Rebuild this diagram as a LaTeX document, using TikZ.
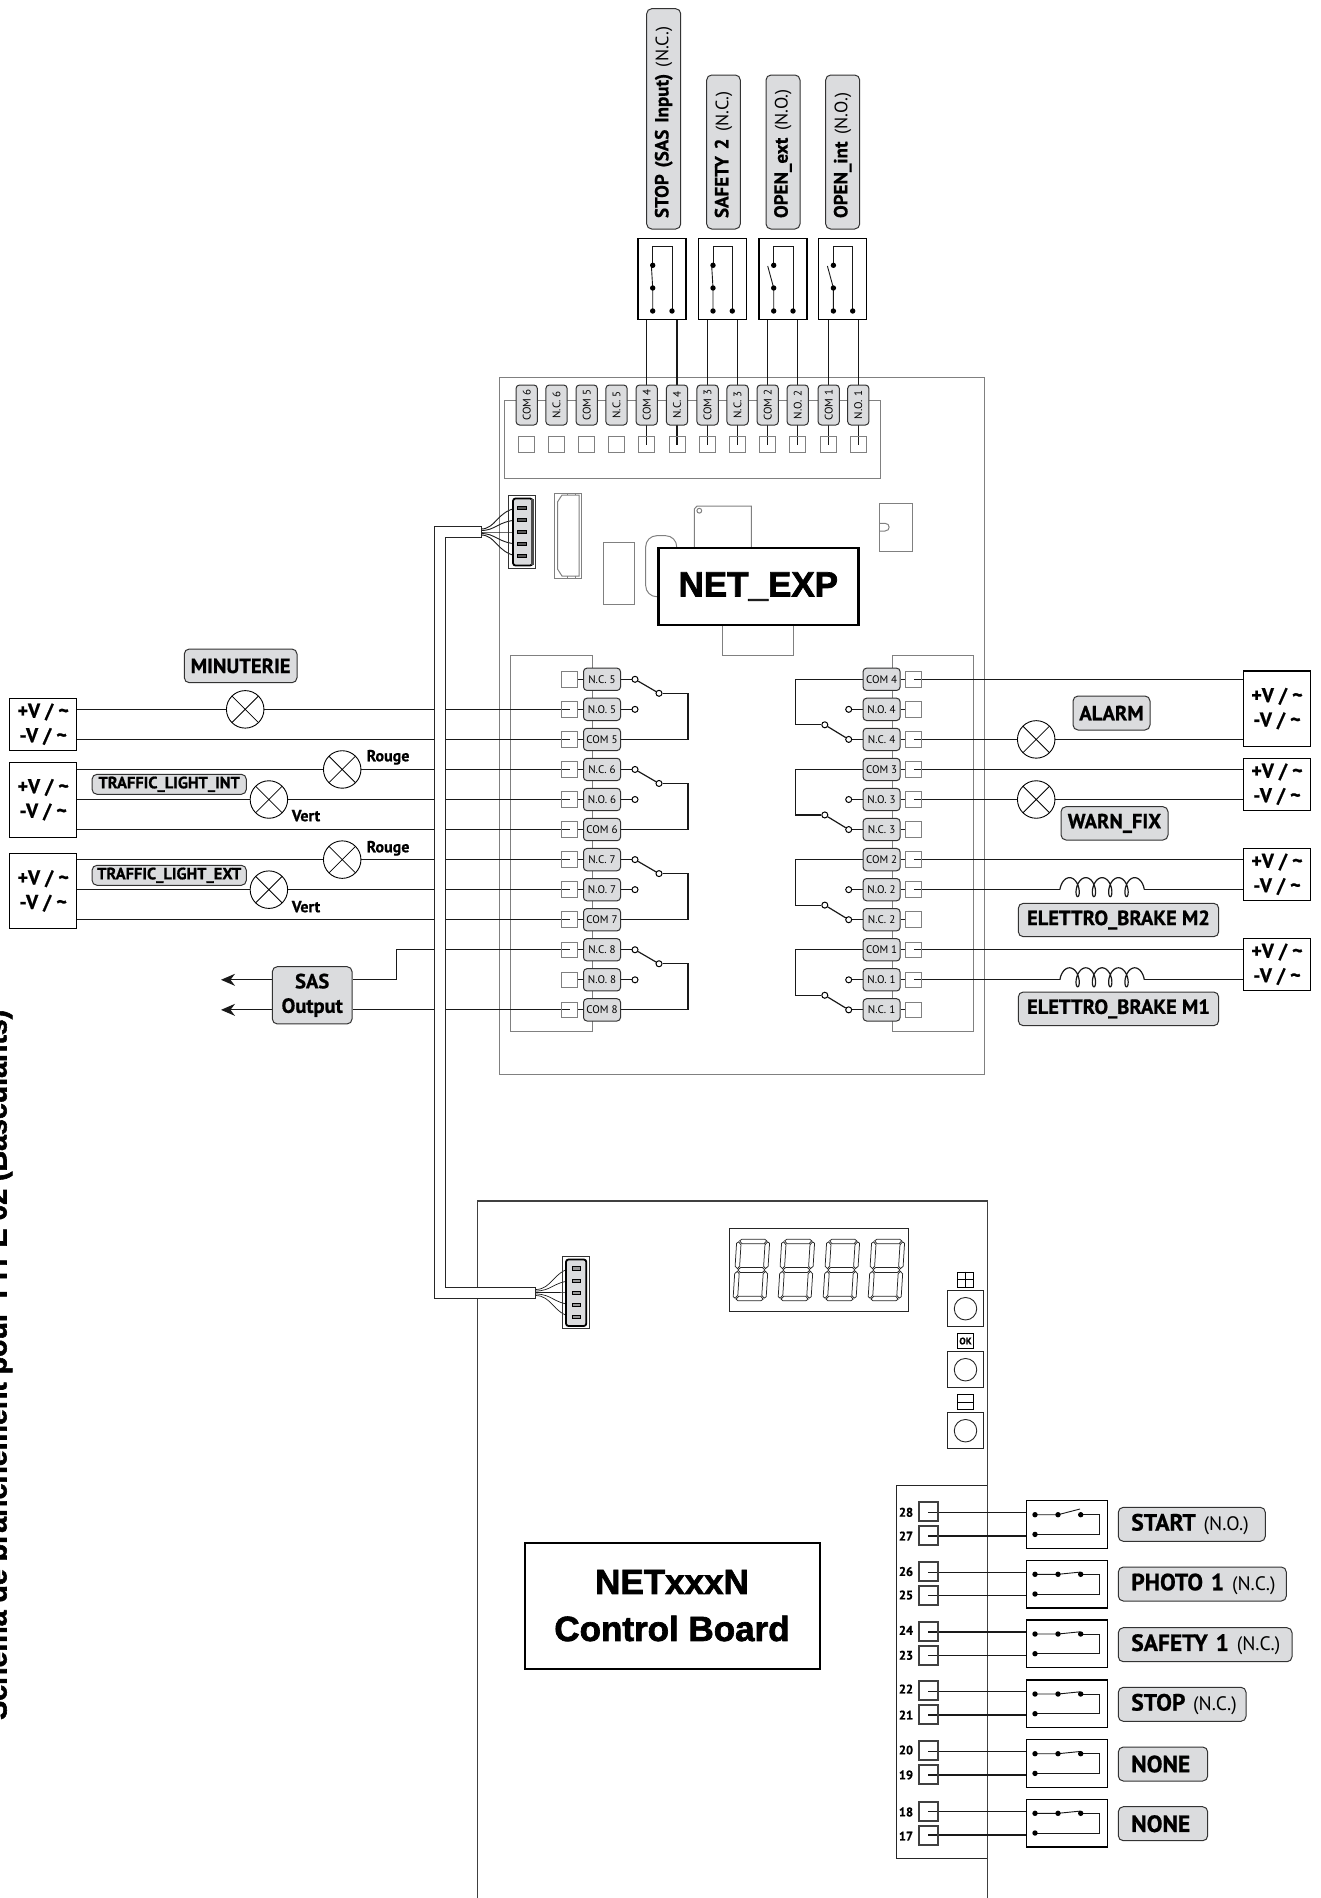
\documentclass[tikz,border=0pt]{standalone}
\usepackage{fontspec}
\usepackage{graphicx}
\setmainfont[BoldFeatures={FakeBold=0.8}]{PT Sans}
\newfontfamily\heavy[BoldFeatures={FakeBold=2}]{Liberation Sans}
\usetikzlibrary{arrows.meta,calc}
\pgfdeclarelayer{board}\pgfdeclarelayer{wires}\pgfdeclarelayer{cable}
\pgfsetlayers{board,wires,cable,main}
\definecolor{tagfill}{HTML}{DBDCDE}
\definecolor{tagline}{HTML}{333333}
\definecolor{pcb}{HTML}{808080}
\newcommand{\fs}[1]{\fontsize{#1}{#1}\selectfont}
\newcommand{\pill}[6]{\node[tagbox,minimum width={(#4-#2)*1pt},minimum height={(#5-#3)*1pt}] (#1) at ({(#2+#4)/2},{(#3+#5)/2}) {#6};}
\newcommand{\vpill}[6]{\node[tagbox,rotate=90,inner xsep=11pt,text width={(#5-#3-22)*1pt},align=left,minimum height={(#4-#2)*1pt}] (#1) at ({(#2+#4)/2},{(#3+#5)/2}) {\mbox{#6}};}
\newcommand{\lpill}[6]{\node[tagbox,inner xsep=13pt,text width={(#4-#2-26)*1pt},align=left,minimum height={(#5-#3)*1pt},font=\bfseries\fs{23.5}] (#1) at ({(#2+#4)/2},{(#3+#5)/2}) {\mbox{#6}};}
\newcommand{\ltx}[1]{{\fontseries{m}\selectfont\fs{18}#1}}
\newcommand{\ltb}[1]{{\fontseries{m}\selectfont\fs{19.5}#1}}
% vertical contact: name, left x, blade tip dx
\newcommand{\swv}[3]{%
  \node[swbox,minimum width=48pt,minimum height=80.6pt] (#1) at ({#2+24},279) {};
  \draw[inner] ({#2+14.7},265.3) -- ({#2+14.7},246.7) -- ({#2+34},246.7) -- ({#2+34},311);
  \draw[inner] ({#2+14.7},311) -- ({#2+14.7},288) -- ({#2+14.7+#3},266);
  \foreach \px/\py in {14.7/265.3,14.7/288,14.7/311,34/311}{\fill ({#2+\px},\py) circle (2.7);}
}
% horizontal contact: name, top y, blade tip rise
\newcommand{\swh}[3]{%
  \node[swbox,minimum width=81pt,minimum height=47.6pt] (#1) at (1067.2,{#2+23.8}) {};
  \draw[inner] (1080.7,{#2+14}) -- (1099.3,{#2+14}) -- (1099.3,{#2+33.7}) -- (1035,{#2+33.7});
  \draw[inner] (1035,{#2+14}) -- (1058,{#2+14}) -- (1080,{#2+14-#3});
  \foreach \px/\py in {1035/14,1058/14,1080.7/14,1035/33.7}{\fill (\px,{#2+\py}) circle (2.7);}
}
% coil: name, row number
\newcommand{\coil}[2]{%
  \pgfmathsetmacro\cy{679.3+30.05*#2}
  \coordinate (#1w) at (1059.9,\cy);
  \coordinate (#1e) at (1144.3,\cy);
  \draw[wire] plot[smooth,samples=200,domain=-105:1545,variable=\a] ({1069.5+0.04528*\a+5*sin(\a)},{\cy-2.5-9.5*cos(\a)});
}
\tikzset{
  tagbox/.style={draw=tagline,fill=tagfill,rounded corners=5pt,line width=1pt,inner sep=0pt,font=\bfseries\fs{20.5}},
  termtag/.style={draw=tagline,fill=tagfill,rounded corners=3.5pt,line width=1pt,inner sep=0pt,minimum width=37pt,minimum height=22.3pt,font=\fs{11}},
  toptag/.style={termtag,rotate=90,minimum width=40pt,minimum height=21.3pt},
  termsq/.style={draw=pcb,line width=1pt,inner sep=0pt,minimum width=16pt,minimum height=15.5pt},
  botsq/.style={draw=black!75,line width=2pt,inner sep=0pt,minimum width=19.5pt,minimum height=19pt},
  powbox/.style={draw=black,fill=white,line width=1.1pt,inner sep=0pt,align=center,font=\bfseries\fs{20}},
  swbox/.style={draw=black,fill=white,line width=1.5pt,inner sep=0pt},
  wire/.style={draw=black!90,line width=1.2pt},
  inner/.style={draw=black!90,line width=.9pt},
  cont/.style={circle,draw=black,fill=white,line width=1pt,inner sep=0pt,minimum size=6pt},
  lamp/.style={circle,draw=black,fill=white,line width=.9pt,inner sep=0pt,minimum size=37.5pt,
    path picture={\draw[line width=.8pt] (path picture bounding box.north west) -- (path picture bounding box.south east)
      (path picture bounding box.north east) -- (path picture bounding box.south west);}},
  pcbline/.style={draw=pcb,line width=1pt},
  seg/.style={draw=black!85,line width=.75pt,fill=white},
  pin/.style={draw=black,fill=black!65,line width=.8pt,inner sep=0pt,minimum width=8.7pt,minimum height=3.6pt},
  fan/.style={draw=black!90,line width=.9pt},
  lbl/.style={inner sep=0pt,font=\bfseries\fs{16}},
  num/.style={inner sep=0pt,font=\bfseries\fs{12.5}},
  icon/.style={draw=black,line width=1.1pt,inner sep=0pt,minimum width=15.7pt,minimum height=15.2pt},
  btn/.style={draw=black!85,line width=.9pt,inner sep=0pt,minimum width=36.3pt,minimum height=36pt},
  btncap/.style={circle,draw=black!85,line width=.9pt,inner sep=0pt,minimum size=22.5pt},
}
\begin{document}
\begin{tikzpicture}[x=1pt,y=-1pt]
\useasboundingbox (0,0) rectangle (1321,1898);

% ---- side title, cut by the page edge
\begin{scope}
\clip (0,0) rectangle (1321,1898);
\node[rotate=90,anchor=base west,inner sep=0pt] (title) at (6.5,1720)
  {\resizebox{710pt}{!}{\heavy\bfseries Schéma de branchement pour TYPE 02 (Basculants)}};
\end{scope}

% ---- boards
\begin{pgfonlayer}{board}
  \draw[pcbline] (499.5,377.5) rectangle (984.3,1074);
  \draw[pcbline] (504,400) rectangle (880,478.7);
  \draw[pcbline] (510.4,655) rectangle (592,1031);
  \draw[pcbline] (892,655) rectangle (973.6,1031);
  % parts on NET_EXP
  \draw[pcbline] (554.7,493) rectangle (581.3,578.3);
  \draw[pcbline] (562,495) -- (557.5,502) -- (557.5,569) -- (562,576) -- (579,576) -- (579,495) -- cycle;
  \draw[pcbline] (567,493) -- (567,495) (575,493) -- (575,495) (567,576) -- (567,578.3) (575,576) -- (575,578.3);
  \draw[pcbline] (603.3,542.7) rectangle (634.3,604.3);
  \draw[pcbline,rounded corners=11pt] (645.7,535.7) rectangle (676.7,596.7);
  \draw[pcbline] (697,506) -- (751.3,506) -- (751.3,560) -- (694.3,560) -- (694.3,509) -- cycle;
  \draw[pcbline] (699.3,510.7) circle (2.4);
  \draw[pcbline] (722,620) rectangle (793,655.7);
  \draw[pcbline] (879.7,503.7) rectangle (912.3,551.3);
  \draw[pcbline] (879.7,523.3) -- (885,523.3) .. controls (890.5,523.3) and (890.5,531) .. (885,531) -- (879.7,531);
  % lower board
  \draw[draw=black!75,line width=1.1pt] (477.8,1898) -- (477.8,1201) -- (987.6,1201) -- (987.6,1898);
\end{pgfonlayer}

% ---- left terminals
\foreach \i/\lab in {0/N.C. 5,1/N.O. 5,2/COM 5,3/N.C. 6,4/N.O. 6,5/COM 6,6/N.C. 7,7/N.O. 7,8/COM 7,9/N.C. 8,10/N.O. 8,11/COM 8}{
  \node[termsq] (LS\i) at (569.6,{679.3+30.05*\i}) {};
  \node[termtag] (LT\i) at (602,{679.3+30.05*\i}) {\lab};
  \begin{pgfonlayer}{wires}\draw[wire] (LS\i.east) -- (LT\i.west);\end{pgfonlayer}
}
% ---- right terminals
\foreach \i/\lab in {0/COM 4,1/N.O. 4,2/N.C. 4,3/COM 3,4/N.O. 3,5/N.C. 3,6/COM 2,7/N.O. 2,8/N.C. 2,9/COM 1,10/N.O. 1,11/N.C. 1}{
  \node[termsq] (RS\i) at (913.9,{679.3+30.05*\i}) {};
  \node[termtag] (RT\i) at (881.6,{679.3+30.05*\i}) {\lab};
  \begin{pgfonlayer}{wires}\draw[wire] (RT\i.east) -- (RS\i.west);\end{pgfonlayer}
}
% ---- change-over contacts, left
\foreach \b/\no/\com in {0/1/2,3/4/5,6/7/8,9/10/11}{
  \node[cont] (LNC\b) at (635,{679.3+30.05*\b}) {};
  \node[cont] (LNO\b) at (635,{679.3+30.05*\no}) {};
  \node[cont] (LAC\b) at (659,{679.3+30.05*\b+14}) {};
  \coordinate (LK\b) at (688,{679.3+30.05*\b+14});
  \begin{pgfonlayer}{wires}
    \draw[wire] (LT\b.east) -- (LNC\b);
    \draw[wire] (LT\no.east) -- (LNO\b);
    \draw[wire] (LNC\b) -- (LAC\b);
    \draw[wire] (LAC\b) -- (LK\b) -- (LK\b |- LT\com.east) -- (LT\com.east);
  \end{pgfonlayer}
}
% ---- change-over contacts, right
\foreach \b/\no/\nc in {0/1/2,3/4/5,6/7/8,9/10/11}{
  \node[cont] (RNO\b) at (848.7,{679.3+30.05*\no}) {};
  \node[cont] (RNC\b) at (848.7,{679.3+30.05*\nc}) {};
  \node[cont] (RAC\b) at (824.8,{679.3+30.05*\nc-14.6}) {};
  \coordinate (RK\b) at (795.8,{679.3+30.05*\nc-14.6});
  \begin{pgfonlayer}{wires}
    \draw[wire] (RT\no.west) -- (RNO\b);
    \draw[wire] (RT\nc.west) -- (RNC\b);
    \draw[wire] (RNC\b) -- (RAC\b);
    \draw[wire] (RAC\b) -- (RK\b) -- (RK\b |- RT\b.west) -- (RT\b.west);
  \end{pgfonlayer}
}
% ---- top terminals
\foreach \i/\px/\lab in {1/526.7/COM 6,2/556.5/N.C. 6,3/586.7/COM 5,4/616.5/N.C. 5,5/646.7/COM 4,6/677/N.C. 4,7/707.6/COM 3,8/737.6/N.C. 3,9/767.7/COM 2,10/797.7/N.O. 2,11/828.7/COM 1,12/858.3/N.O. 1}{
  \node[termsq,minimum width=16pt,minimum height=16pt] (TS\i) at (\px,444.7) {};
  \node[toptag] (TT\i) at (\px,405) {\lab};
}

% ---- parts on the board drawn above the wires
\node[draw=black,fill=white,line width=2.4pt,inner sep=0pt,minimum width=200pt,minimum height=77pt,font=\heavy\bfseries\fs{35}] (netexp) at (758.3,586.5) {NET\_EXP};

% ---- top contacts and labels
\swv{SWa}{638}{-1.3}
\swv{SWb}{698.3}{-1.3}
\swv{SWc}{759}{-6}
\swv{SWd}{818.7}{-6}
\vpill{LA}{646.7}{8.7}{680.7}{229}{\fs{19}STOP (SAS Input) \ltx{(N.C.)}}
\vpill{LB}{706.7}{75}{740.3}{229}{\fs{19}SAFETY 2 \ltx{(N.C.)}}
\vpill{LC}{766}{75}{800}{229}{\fs{19}OPEN\_ext \ltx{(N.O.)}}
\vpill{LD}{825.7}{75}{859.7}{229}{\fs{19}OPEN\_int \ltx{(N.O.)}}

% ---- left power boxes
\node[powbox,minimum width=67.3pt,minimum height=52.3pt] (PA) at (43.2,724.2) {+V / \textasciitilde\\[4.5pt] -V / \textasciitilde};
\node[powbox,minimum width=67.3pt,minimum height=75.3pt] (PB) at (43.2,799.7) {+V / \textasciitilde\\[4.5pt] -V / \textasciitilde};
\node[powbox,minimum width=67.3pt,minimum height=75.3pt] (PC) at (43.2,891) {+V / \textasciitilde\\[4.5pt] -V / \textasciitilde};
% ---- right power boxes
\node[powbox,minimum width=67.2pt,minimum height=75.3pt] (QA) at (1277,708.6) {+V / \textasciitilde\\[4.5pt] -V / \textasciitilde};
\node[powbox,minimum width=67.2pt,minimum height=52.3pt] (QB) at (1277,784.2) {+V / \textasciitilde\\[4.5pt] -V / \textasciitilde};
\node[powbox,minimum width=67.2pt,minimum height=52pt] (QC) at (1277,874.3) {+V / \textasciitilde\\[4.5pt] -V / \textasciitilde};
\node[powbox,minimum width=67.2pt,minimum height=52pt] (QD) at (1277,964.3) {+V / \textasciitilde\\[4.5pt] -V / \textasciitilde};

% ---- lamps
\node[lamp] (lpM) at (245.2,709.35) {};
\node[lamp] (lpR1) at (342.2,769.45) {};
\node[lamp] (lpV1) at (268.9,799.5) {};
\node[lamp] (lpR2) at (342.2,859.6) {};
\node[lamp] (lpV2) at (268.9,889.65) {};
\node[lamp] (lpA) at (1036.2,739.4) {};
\node[lamp] (lpW) at (1036.2,799.5) {};

% ---- labels
\pill{tMin}{184.3}{649}{297}{682.7}{MINUTERIE}
\node[tagbox,minimum width=154.3pt,minimum height=20pt,font=\bfseries\fs{16.4}] (tInt) at (169.2,784.3) {TRAFFIC\_LIGHT\_INT};
\node[tagbox,minimum width=154.3pt,minimum height=20pt,font=\bfseries\fs{16.4}] (tExt) at (169.2,875.3) {TRAFFIC\_LIGHT\_EXT};
\node[lbl] (rg1) at (388,757.3) {Rouge};
\node[lbl] (rg2) at (388,848.3) {Rouge};
\node[lbl] (vt1) at (306,815.7) {Vert};
\node[lbl] (vt2) at (306,906.7) {Vert};
\node[tagbox,align=center,minimum width=79.7pt,minimum height=57.3pt,font=\bfseries\fs{20.5}] (sas) at (312.2,995.3) {SAS\\[4pt]Output};
\pill{tAl}{1073}{696}{1150}{730}{ALARM}
\pill{tWa}{1061}{806.7}{1168}{840}{WARN\_FIX}
\pill{tBr2}{1018.3}{903.3}{1218.7}{936.7}{ELETTRO\_BRAKE M2}
\pill{tBr1}{1018.3}{992}{1218.7}{1025.7}{ELETTRO\_BRAKE M1}

% ---- coils
\coil{cA}{7}
\coil{cB}{10}

% ---- arrow ends of SAS
\coordinate (arA) at (221,979.8);
\coordinate (arB) at (221,1009.85);
\coordinate (sasK) at (396.8,979.8);

% ---- all long wires
\begin{pgfonlayer}{wires}
  \foreach \i/\b in {1/PA,2/PA}{\draw[wire] (\b.east |- LS\i.center) -- (LS\i.center);}
  \foreach \i/\b in {3/PB,4/PB,5/PB}{\draw[wire] (\b.east |- LS\i.center) -- (LS\i.center);}
  \foreach \i/\b in {6/PC,7/PC,8/PC}{\draw[wire] (\b.east |- LS\i.center) -- (LS\i.center);}
  \draw[wire] (LS9.center) -- (LS9.center -| sasK) -- (sasK) -- (sasK -| sas.east);
  \draw[wire] (LS11.center) -- (LS11.center -| sas.east);
  \draw[wire,-{Stealth[length=14pt,width=12pt]}] (arA -| sas.west) -- (arA);
  \draw[wire,-{Stealth[length=14pt,width=12pt]}] (arB -| sas.west) -- (arB);
  \foreach \i/\b in {0/QA,2/QA,3/QB,4/QB,6/QC,9/QD}{\draw[wire] (RS\i.center) -- (RS\i.center -| \b.west);}
  \draw[wire] (RS7.center) -- (cAw);
  \draw[wire] (cAe) -- (cAe -| QC.west);
  \draw[wire] (RS10.center) -- (cBw);
  \draw[wire] (cBe) -- (cBe -| QD.west);
  % top contacts to terminals
  \draw[wire] (SWa.south -| TS5.center) -- (TS5.center);
  \draw[wire] (SWa.south -| TS6.center) -- (TS6.center);
  \draw[wire] (SWb.south -| TS7.center) -- (TS7.center);
  \draw[wire] (SWb.south -| TS8.center) -- (TS8.center);
  \draw[wire] (SWc.south -| TS9.center) -- (TS9.center);
  \draw[wire] (SWc.south -| TS10.center) -- (TS10.center);
  \draw[wire] (SWd.south -| TS11.center) -- (TS11.center);
  \draw[wire] (SWd.south -| TS12.center) -- (TS12.center);
\end{pgfonlayer}

% ---- flat cable
\begin{pgfonlayer}{cable}
  \draw[fill=white,draw=black!85,line width=1pt] (481,526.7) -- (434.5,526.7) -- (434.5,1298.3) -- (535.4,1298.3) -- (535.4,1287.3) -- (445.8,1287.3) -- (445.8,537.3) -- (481,537.3) -- cycle;
\end{pgfonlayer}

% ---- upper connector
\draw[draw=black!80,line width=.9pt] (508.7,495) rectangle (535.3,568.3);
\draw[fill=tagfill,draw=black,line width=1.8pt,rounded corners=2.5pt] (513,498.5) rectangle (532.5,565.5);
\fill[black!70] (531,499) rectangle (533.5,565);
\foreach \k/\py in {1/508,2/520,3/532,4/544,5/556}{
  \node[pin] (UP\k) at (522,\py) {};
}
\begin{pgfonlayer}{wires}
  \foreach \k/\sy in {1/529,2/530.5,3/532,4/533.5,5/535}{
    \draw[fan] (481,\sy) .. controls (496,\sy) and (497,{\sy+(\k-3)*9}) .. (UP\k.west);
  }
\end{pgfonlayer}

% ---- lower connector
\draw[draw=black!80,line width=.9pt] (562.7,1256) rectangle (589.2,1328.7);
\draw[fill=tagfill,draw=black,line width=1.8pt,rounded corners=2.5pt] (566,1259.5) rectangle (586.3,1326);
\foreach \k/\py in {1/1268.3,2/1280.7,3/1292.7,4/1304.7,5/1316.7}{
  \node[pin,fill=white!60!black] (DP\k) at (576.3,\py) {};
}
\begin{pgfonlayer}{wires}
  \foreach \k/\sy in {1/1289.5,2/1291,3/1292.5,4/1294,5/1295.5}{
    \draw[fan,line width=.7pt] (535.4,\sy) .. controls (552,\sy) and (553,{\sy+(\k-3)*9}) .. (DP\k.west);
  }
\end{pgfonlayer}

% ---- display
\node[draw=black!85,line width=1pt,inner sep=0pt,minimum width=179pt,minimum height=83.7pt] (disp) at (819.2,1269.9) {};
\foreach \dx in {0,45,90,135}{
\begin{scope}[shift={(736.8+\dx,1239.3)},xslant=0.0625]
  \filldraw[seg] (3,1.5) -- (5,0) -- (28,0) -- (30,1.5) -- (27.5,4.5) -- (5.5,4.5) -- cycle;
  \filldraw[seg] (3,30.7) -- (5.5,28.2) -- (27.5,28.2) -- (30,30.7) -- (27.5,33.2) -- (5.5,33.2) -- cycle;
  \filldraw[seg] (3,59.9) -- (5.5,56.9) -- (27.5,56.9) -- (30,59.9) -- (28,61.4) -- (5,61.4) -- cycle;
  \filldraw[seg] (0,4) -- (2,2.5) -- (4.5,5.5) -- (4.5,27) -- (2.5,29.3) -- (0,27) -- cycle;
  \filldraw[seg] (33,4) -- (31,2.5) -- (28.5,5.5) -- (28.5,27) -- (30.5,29.3) -- (33,27) -- cycle;
  \filldraw[seg] (0,34.4) -- (2.5,32) -- (4.5,34.4) -- (4.5,56) -- (2,58.9) -- (0,57.4) -- cycle;
  \filldraw[seg] (33,34.4) -- (30.5,32) -- (28.5,34.4) -- (28.5,56) -- (31,58.9) -- (33,57.4) -- cycle;
\end{scope}
}

% ---- buttons
\foreach \k/\by in {1/1308.7,2/1369.7,3/1430.7}{
  \node[btn] (bt\k) at (965.5,\by) {};
  \node[btncap] (cap\k) at (965.5,\by) {};
}
\node[icon] (icP) at (965.5,1279.8) {};
\draw[line width=.9pt] (icP.north) -- (icP.south) (icP.west) -- (icP.east);
\node[icon,line width=1.5pt,font=\bfseries\fs{9.5}] (icO) at (965.5,1341) {OK};
\node[icon] (icM) at (965.5,1402) {};
\draw[line width=.9pt] (icM.west) -- (icM.east);

% ---- control board box
\node[draw=black,line width=2pt,inner sep=0pt,minimum width=295pt,minimum height=125.8pt,align=center,font=\heavy\bfseries\fs{35}] (ctl) at (672,1605.6) {NETxxxN\\[12pt]Control Board};

% ---- lower terminal block
\draw[draw=black!85,line width=1pt] (987.4,1485.7) -- (896.7,1485.7) -- (896.7,1858.7) -- (987.4,1858.7);
\foreach \n/\sy/\wy/\ty in {28/1511.3/1512.7/1512.3,27/1535.5/1536/1536,26/1571.2/1572.3/1571.5,25/1595.5/1595.7/1595,24/1631.2/1632/1630.3,23/1655.5/1655.3/1655.3,22/1690.8/1691.7/1689,21/1714.8/1715/1715,20/1750.5/1751.7/1750,19/1774.5/1775/1775,18/1811.5/1811.7/1812,17/1835.8/1835/1836}{
  \node[botsq] (BS\n) at (928.5,\sy) {};
  \node[num] (BN\n) at (906,\ty) {\n};
  \coordinate (BW\n) at (928.3,\wy);
}
\swh{SWs}{1500.7}{5.7}
\swh{SWp}{1560.3}{2.2}
\swh{SWf}{1620}{2.2}
\swh{SWt}{1680}{2.2}
\swh{SWn}{1739.7}{2.2}
\swh{SWm}{1799.3}{2.2}
\begin{pgfonlayer}{wires}
  \foreach \n/\b in {28/SWs,27/SWs,26/SWp,25/SWp,24/SWf,23/SWf,22/SWt,21/SWt,20/SWn,19/SWn,18/SWm,17/SWm}{
    \draw[wire] (BW\n) -- (BW\n -| \b.west);
  }
\end{pgfonlayer}
\lpill{nA}{1118.3}{1507.3}{1265.3}{1541.3}{START \ltb{(N.O.)}}
\lpill{nB}{1118.3}{1567}{1286.3}{1601}{PHOTO 1 \ltb{(N.C.)}}
\lpill{nC}{1118.3}{1627.7}{1292}{1661.7}{SAFETY 1 \ltb{(N.C.)}}
\lpill{nD}{1118.3}{1687.3}{1246}{1721.3}{STOP \ltb{(N.C.)}}
\lpill{nE}{1118.3}{1747}{1207.7}{1781}{NONE}
\lpill{nF}{1118.3}{1806.7}{1207.7}{1840.7}{NONE}
\end{tikzpicture}
\end{document}
